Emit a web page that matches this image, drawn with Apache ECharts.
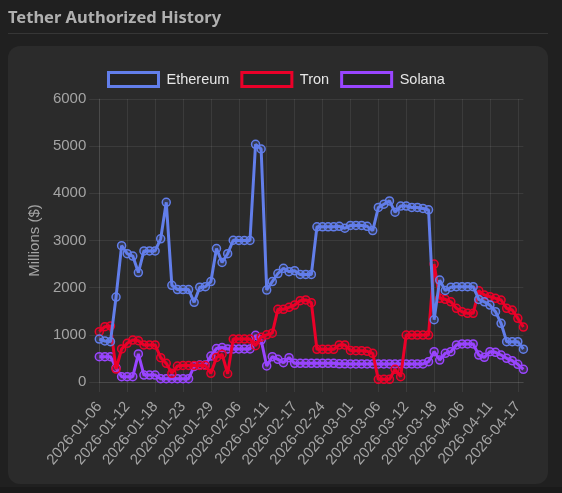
<!DOCTYPE html>
<html>
<head>
<meta charset="utf-8">
<script src="https://cdn.jsdelivr.net/npm/echarts@6/dist/echarts.min.js"></script>
<style>
html,body{margin:0;padding:0;background:#202020;}
#chart{width:562px;height:493px;}
</style>
</head>
<body>
<div id="chart"></div>
<script>
const dates = ["2026-01-06","2026-01-07","2026-01-08","2026-01-09","2026-01-10",
"2026-01-12","2026-01-13","2026-01-14","2026-01-15","2026-01-16",
"2026-01-18","2026-01-19","2026-01-20","2026-01-21","2026-01-22",
"2026-01-23","2026-01-24","2026-01-26","2026-01-27","2026-01-28",
"2026-01-29","2026-01-30","2026-02-02","2026-02-03","2026-02-04",
"2026-02-06","2026-02-07","2026-02-08","2026-02-09","2026-02-10",
"2026-02-11","2026-02-12","2026-02-13","2026-02-14","2026-02-16",
"2026-02-17","2026-02-18","2026-02-19","2026-02-20","2026-02-23",
"2026-02-24","2026-02-25","2026-02-26","2026-02-27","2026-02-28",
"2026-03-01","2026-03-02","2026-03-03","2026-03-04","2026-03-05",
"2026-03-06","2026-03-07","2026-03-09","2026-03-10","2026-03-11",
"2026-03-12","2026-03-13","2026-03-14","2026-03-16","2026-03-17",
"2026-03-18","2026-03-19","2026-03-20","2026-03-23","2026-04-02",
"2026-04-06","2026-04-07","2026-04-08","2026-04-09","2026-04-10",
"2026-04-11","2026-04-13","2026-04-14","2026-04-15","2026-04-16",
"2026-04-17","2026-04-18"];

const ethereum = [910,870,855,1800,2890,2720,2670,2320,2780,2780,
2780,3035,3810,2050,1960,1960,1960,1690,2010,2020,
2130,2830,2535,2720,3005,3000,3000,3000,5040,4940,
1950,2130,2300,2410,2340,2360,2280,2280,2280,3290,
3290,3290,3290,3300,3260,3320,3320,3320,3300,3210,
3700,3770,3840,3600,3730,3730,3700,3700,3680,3650,
1320,2160,1940,2010,2020,2020,2020,2020,1750,1700,
1630,1490,1245,855,855,855,695];

const tron = [1067,1173,1187,275,700,820,890,875,785,785,
785,516,396,184,339,350,350,350,350,350,
184,520,590,175,911,911,911,911,770,950,
1000,1035,1540,1540,1583,1632,1724,1740,1681,693,
693,693,693,785,785,670,664,664,650,608,
57,57,57,269,113,996,996,996,996,996,
2500,1774,1753,1700,1562,1490,1456,1456,1936,1844,
1809,1774,1738,1562,1526,1350,1165];

const solana = [537,537,537,300,113,113,113,594,148,148,
148,70,70,70,70,70,70,330,360,360,
550,710,730,700,700,700,700,700,990,890,
340,537,480,410,516,396,396,396,396,396,
396,396,396,385,385,382,382,382,382,382,
382,382,382,382,382,382,382,382,382,430,
643,466,608,643,785,806,806,806,572,523,
643,630,572,502,452,375,269];

const yTicks = [0,1000,2000,3000,4000,5000,6000];
const seriesNames = ["Ethereum","Tron","Solana"];
const seriesColors = ["#627EEA","#EB0029","#9945FF"];
const seriesFills = ["rgba(98,126,234,0.2)","rgba(235,0,41,0.2)","rgba(153,69,255,0.2)"];
const seriesData = [ethereum, tron, solana];

const gridColor = "rgba(255,255,255,0.08)";
const textColor = "#a4a4a4";
const font = "'Liberation Sans', Arial, sans-serif";

const chart = echarts.init(document.getElementById('chart'));
chart.setOption({
  backgroundColor: '#202020',
  animation: false,
  textStyle: {fontFamily: font},
  title: {
    text: 'Tether Authorized History',
    left: 3, top: 5,
    textStyle: {color: '#b0b0b0', fontSize: 16.5, fontWeight: 'bold', fontFamily: "'Noto Sans', 'Open Sans', sans-serif"}
  },
  graphic: [
    {type: 'line', shape: {x1: 8, y1: 33.5, x2: 548, y2: 33.5}, style: {stroke: '#363636', lineWidth: 1}, silent: true, z: -10},
    {type: 'rect', shape: {x: 8, y: 46, width: 540, height: 438, r: 12}, style: {fill: '#2b2b2b'}, silent: true, z: -10},
    {type: 'rect', shape: {x: 0, y: 487, width: 562, height: 6}, style: {fill: '#1a1a1a'}, silent: true, z: -10}
  ],
  legend: {
    top: 66, left: 102,
    itemWidth: 50, itemHeight: 14, itemGap: 11,
    icon: 'rect',
    data: seriesNames.map((n, i) => ({
      name: n,
      itemStyle: {color: 'rgba(0,0,0,0.12)', borderColor: seriesColors[i], borderWidth: 3}
    })),
    textStyle: {color: '#e6e6e6', fontSize: 14.5, fontFamily: font, padding: [0, 0, 0, 3]}
  },
  grid: {left: 99.3, right: 38.6, top: 99, bottom: 111, containLabel: false},
  xAxis: {
    type: 'category',
    data: dates,
    boundaryGap: false,
    axisLine: {show: true, lineStyle: {color: gridColor}},
    axisTick: {show: true, interval: 4, length: 10, lineStyle: {color: gridColor}},
    axisLabel: {interval: 4, rotate: 50, color: textColor, fontSize: 15, margin: 22, fontFamily: font},
    splitLine: {show: true, interval: 4, lineStyle: {color: gridColor}}
  },
  yAxis: {
    type: 'value',
    min: yTicks[0], max: yTicks[yTicks.length - 1], interval: 1000,
    name: 'Millions ($)', nameLocation: 'middle', nameGap: 48, nameRotate: 90,
    nameTextStyle: {color: textColor, fontSize: 15, fontFamily: font},
    axisLine: {show: true, lineStyle: {color: gridColor}},
    axisTick: {show: true, length: 10, lineStyle: {color: gridColor}},
    axisLabel: {color: textColor, fontSize: 15, margin: 13, fontFamily: font, formatter: v => String(v)},
    splitLine: {show: true, lineStyle: {color: gridColor}}
  },
  series: seriesNames.map((n, i) => ({
    name: n,
    type: 'line',
    data: seriesData[i],
    z: 5 - i,
    symbol: 'circle',
    symbolSize: 8,
    showAllSymbol: true,
    lineStyle: {color: seriesColors[i], width: 3},
    itemStyle: {color: seriesFills[i], borderColor: seriesColors[i], borderWidth: 1.5},
    emphasis: {disabled: true}
  }))
});
</script>
</body>
</html>
